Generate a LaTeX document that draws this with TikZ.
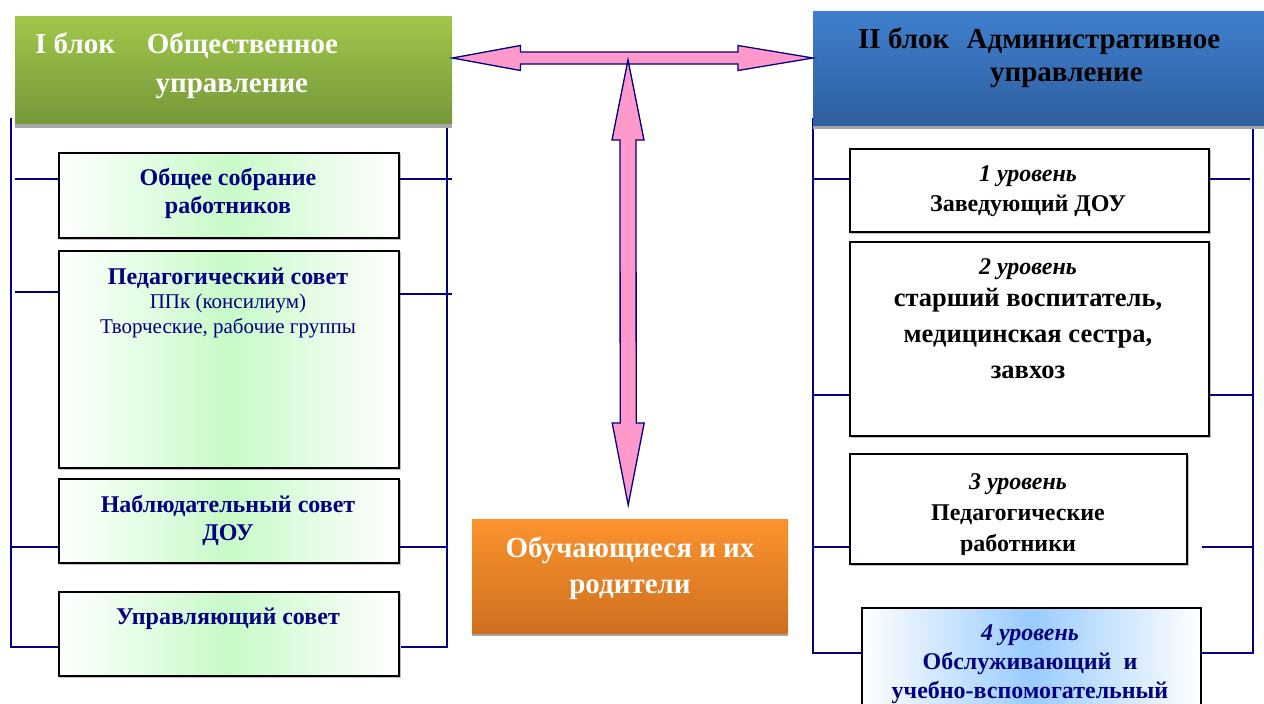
\documentclass[tikz,border=0pt]{standalone}
\usepackage{fontspec}
\setmainfont{Liberation Serif}
\usetikzlibrary{calc,positioning}
\definecolor{navy}{HTML}{000080}
\definecolor{pinkfill}{HTML}{FF99CC}
\definecolor{greentop}{HTML}{A0C74A}
\definecolor{greenbot}{HTML}{76983A}
\definecolor{bluetop}{HTML}{3E80CE}
\definecolor{bluebot}{HTML}{2F5F9E}
\definecolor{orangetop}{HTML}{FB932D}
\definecolor{orangebot}{HTML}{CF6F1F}
\definecolor{lgreen}{HTML}{C8FAC8}
\definecolor{lblue}{HTML}{99CCFF}
\definecolor{shadowgray}{HTML}{A6A6A6}

\tikzset{
  bline/.style={navy, line width=1.3pt},
  parrow/.style={draw=navy, fill=pinkfill, line width=1.3pt, line join=miter},
  header/.style={anchor=north west, inner sep=0pt, draw=none},
  hshadow/.style={fill=shadowgray, draw=none},
  lbox/.style={anchor=north west, inner sep=0pt, draw=black, line width=1.6pt,
    left color=white, right color=white, middle color=lgreen},
  rbox/.style={anchor=north west, inner sep=0pt, draw=black, line width=1.6pt, fill=white},
  bbox/.style={anchor=north west, inner sep=0pt, draw=black, line width=1.6pt,
    left color=white, right color=white, middle color=lblue},
  boxshadow/.style={draw=black!25, line width=1pt},
  ltext/.style={anchor=north, inner sep=0pt, align=center, text=navy,
    font=\fontsize{24}{28}\selectfont\bfseries},
  rtext/.style={anchor=north, inner sep=0pt, align=center,
    font=\fontsize{24}{30}\selectfont\bfseries},
}

\begin{document}
\begin{tikzpicture}[x=1pt, y=-1pt]
\useasboundingbox (0,0) rectangle (1264,704);

%brackets left
\draw[bline] (11,118) -- (11,647) -- (58,647);
\draw[bline] (447,118) -- (447,647) -- (398,647);
%brackets right
\draw[bline] (813,118) -- (813,653) -- (861,653);
\draw[bline] (1253,118) -- (1253,653) -- (1201,653);

%headers
\fill[hshadow] (15,118) rectangle (452,128);
\node[header, minimum width=437, minimum height=107, top color=greentop, bottom color=greenbot] (blk1) at (15,16) {};
\fill[hshadow] (813,118) rectangle (1264,129);
\node[header, minimum width=451, minimum height=114, top color=bluetop, bottom color=bluebot] (blk2) at (813,11) {};
\node[anchor=north west, inner sep=0pt, align=left, text=white,
  font=\fontsize{29}{39}\selectfont\bfseries] (blk1t) at (35,33)
  {I блок\hspace{1.1em}Общественное\\\hspace*{4.15em}управление};
\node[anchor=north west, inner sep=0pt, align=left,
  font=\fontsize{29}{33}\selectfont\bfseries] (blk2t) at (858,28)
  {II блок\hspace{0.6em}Административное\\\hspace*{4.55em}управление};

%pupils
\fill[hshadow] (472,626) rectangle (788,636);
\node[header, minimum width=316, minimum height=114, top color=orangetop, bottom color=orangebot] (pupil) at (472,519) {};
\node[anchor=north, inner sep=0pt, align=center, text=white,
  font=\fontsize{29}{36}\selectfont\bfseries] (pupilt) at (630,537)
  {Обучающиеся и их\\родители};

%left column
\foreach \y/\h in {152/85, 250/217, 478/84, 591/84}
  \draw[boxshadow] (60,\y+\h+2) -- (400,\y+\h+2) -- (400,\y+2);
\node[lbox, minimum width=340, minimum height=85] (obs) at (58,152) {};
\node[lbox, minimum width=340, minimum height=217] (ped) at (58,250) {};
\node[lbox, minimum width=340, minimum height=84] (nab) at (58,478) {};
\node[lbox, minimum width=340, minimum height=84] (upr) at (58,591) {};

\node[ltext] (obst) at (228,168) {Общее собрание\\работников};
\node[ltext] (pedt) at (228,268) {Педагогический совет};
\node[ltext, font=\fontsize{21}{25}\selectfont, below=5pt of pedt] (pedt2) {ППк (консилиум)\\Творческие, рабочие группы};
\node[ltext] (nabt) at (228,495) {Наблюдательный совет\\ДОУ};
\node[ltext] (uprt) at (228,608) {Управляющий совет};

%left ticks
\draw[bline] (15,179) -- (obs.west |- 0,179);
\draw[bline] (obs.east |- 0,179) -- (452,179);
\draw[bline] (15,292) -- (ped.west |- 0,292);
\draw[bline] (ped.east |- 0,294) -- (452,294);
\draw[bline] (11,547) -- (nab.west |- 0,547);
\draw[bline] (nab.east |- 0,547) -- (447,547);

%right column
\foreach \x/\y/\w/\h in {849/148/359/83, 849/241/359/194, 849/453/337/110}
  \draw[boxshadow] (\x+2,\y+\h+2) -- (\x+\w+2,\y+\h+2) -- (\x+\w+2,\y+2);
\node[rbox, minimum width=359, minimum height=83] (lev1) at (849,148) {};
\node[rbox, minimum width=359, minimum height=194] (lev2) at (849,241) {};
\node[rbox, minimum width=337, minimum height=110] (lev3) at (849,453) {};
\node[bbox, minimum width=339, minimum height=120] (lev4) at (861,607) {};

\node[rtext] (lev1t) at (1028,165) {\itshape 1 уровень\\Заведующий ДОУ};
\node[rtext] (lev2t) at (1028,258) {\itshape 2 уровень};
\node[rtext, font=\fontsize{26.5}{36}\selectfont\bfseries, below=9pt of lev2t] (lev2t2)
  {старший воспитатель,\\медицинская сестра,\\завхоз};
\begin{scope}
\clip (lev3.north west) rectangle ([yshift=10pt]lev3.south east);
\node[rtext, font=\fontsize{24}{31}\selectfont\bfseries] (lev3t) at (1018,473)
  {\itshape 3 уровень\\Педагогические\\работники};
\end{scope}
\node[rtext, text=navy, font=\fontsize{24}{29}\selectfont\bfseries] (lev4t) at (1030,624)
  {\itshape 4 уровень\\Обслуживающий\ \ и\\учебно-вспомогательный};

%right ticks
\draw[bline] (813,179) -- (lev1.west |- 0,179);
\draw[bline] (lev1.east |- 0,179) -- (1250,179);
\draw[bline] (813,395) -- (lev2.west |- 0,395);
\draw[bline] (lev2.east |- 0,395) -- (1253,395);
\draw[bline] (813,547) -- (lev3.west |- 0,547);
\draw[bline] (1202,547) -- (1253,547);

%arrows
\coordinate (hl) at (blk1.east |- 0,58);
\coordinate (hr) at (blk2.west |- 0,58);
\draw[parrow] (hl) -- ($(hl)+(68,-12.5)$) -- ($(hl)+(68,-6)$) -- ($(hr)+(-75,-6)$)
  -- ($(hr)+(-75,-12.5)$) -- (hr) -- ($(hr)+(-75,12.5)$) -- ($(hr)+(-75,6)$)
  -- ($(hl)+(68,6)$) -- ($(hl)+(68,12.5)$) -- cycle;
\coordinate (vt) at (628,60);
\coordinate (vb) at ($(pupil.north)+(-2,-14)$);
\draw[parrow] (vt) -- ($(vt)+(16,80)$) -- ($(vt)+(8,80)$) -- ($(vb)+(8,-82)$)
  -- ($(vb)+(16,-82)$) -- (vb) -- ($(vb)+(-16,-82)$) -- ($(vb)+(-8,-82)$)
  -- ($(vt)+(-8,80)$) -- ($(vt)+(-16,80)$) -- cycle;

\end{tikzpicture}
\end{document}
